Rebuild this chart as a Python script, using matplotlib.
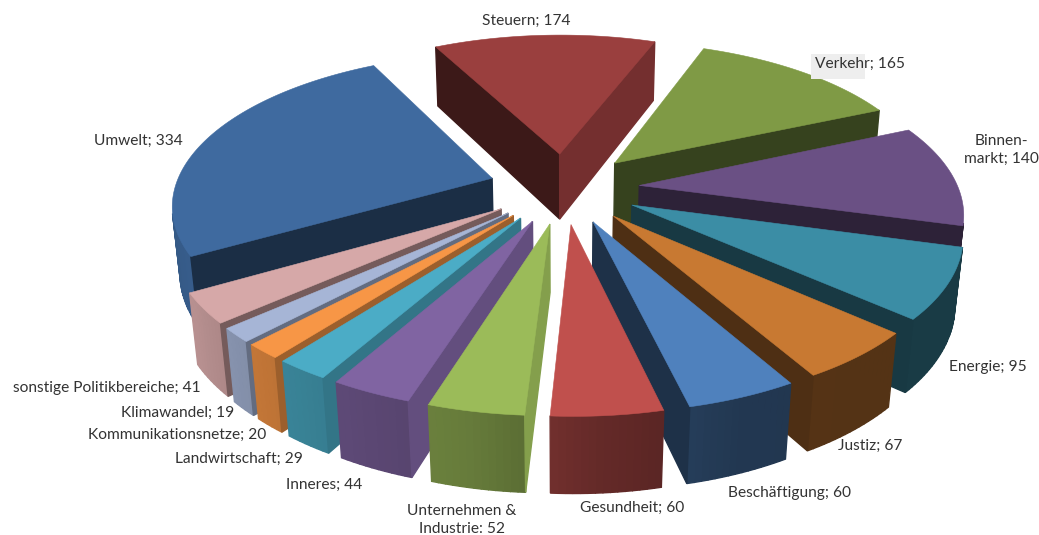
import numpy as np
import matplotlib
matplotlib.use("Agg")
import matplotlib.pyplot as plt

names = ["Steuern", "Verkehr", "Binnen-\nmarkt", "Energie", "Justiz", "Beschäftigung", "Gesundheit",
         "Unternehmen &\nIndustrie", "Inneres", "Landwirtschaft", "Kommunikationsnetze", "Klimawandel",
         "sonstige Politikbereiche", "Umwelt"]
values = [174, 165, 140, 95, 67, 60, 60, 52, 44, 29, 20, 19, 41, 334]
top_colors = ["#9A3F3E", "#7F9A45", "#6A5084", "#3B8DA5", "#C87932", "#4F81BD", "#C0504D",
              "#9BBB59", "#8064A2", "#4BACC6", "#F79646", "#A6B5D6", "#D6A8A8", "#3F6A9F"]

# Beschriftungen: x, y (Pixel), Ausrichtung
label_pos = [(526, 21), (860, 64), (1001, 150), (988, 367), (870, 446), (789, 493), (632, 508),
             (462, 520), (324, 485), (239, 459), (177, 435), (178, 413), (107, 388), (138, 141)]

# Geometrie der Projektion
start_angle = -28.6
explode = 0.238
cx, cy = 564, 188
A, B, C, D, E = 318, 148, 68, 6, -3
k, m, n = 0.16, -0.005, 0.02

# Helligkeit der Seitenwände je nach Richtung
wall_dir = [92, 106, 119, 132, 149, 200, 255]
wall_fac = [0.85, 0.78, 0.68, 0.60, 0.43, 0.42, 0.38]
outer_dir = [100, 140, 157, 174, 190, 205, 225, 240, 280, 330]
outer_fac = [0.42, 0.42, 0.43, 0.52, 0.66, 0.72, 0.80, 0.87, 0.80, 0.80]


def project(x, y, z):
    w = 1 + k * y + m * x - n * z
    return cx + (A * x + D * y) / w, cy - (B * y + E * x + C * z) / w


def shade(col, f):
    rgb = np.array(matplotlib.colors.to_rgb(col))
    return tuple(rgb * f)


def draw_wall(ax, p, q, col):
    px = [project(p[0], p[1], 0), project(q[0], q[1], 0), project(q[0], q[1], -1), project(p[0], p[1], -1)]
    xs = np.array([a[0] for a in px])
    ys = np.array([a[1] for a in px])
    area = np.sum(xs * np.roll(ys, -1) - np.roll(xs, -1) * ys)
    if area < 0:
        ax.fill(xs, ys, color=col, lw=1.0)


fig = plt.figure(figsize=(10.39, 5.35), dpi=100)
ax = fig.add_axes([0, 0, 1, 1])
ax.set_xlim(0, 1039)
ax.set_ylim(535, 0)
ax.axis("off")

angles = np.concatenate([[0], np.cumsum(values)]) / np.sum(values) * 360 + start_angle
mids = (angles[:-1] + angles[1:]) / 2
order = np.argsort(-np.cos(np.radians(mids)))

for i in order:
    a1, a2 = angles[i], angles[i + 1]
    mid = np.radians(mids[i])
    tip = (explode * np.sin(mid), explode * np.cos(mid))
    th = np.radians(np.linspace(a1, a2, max(int(a2 - a1), 6)))
    arc_x = tip[0] + np.sin(th)
    arc_y = tip[1] + np.cos(th)
    col = top_colors[i]

    # Wände
    for j in range(len(th) - 1):
        f = np.interp(np.degrees(th[j]) % 360, outer_dir, outer_fac)
        draw_wall(ax, (arc_x[j], arc_y[j]), (arc_x[j + 1], arc_y[j + 1]), shade(col, f))
    f1 = np.interp((a1 - 90) % 360, wall_dir, wall_fac)
    f2 = np.interp((a2 + 90) % 360, wall_dir, wall_fac)
    draw_wall(ax, tip, (arc_x[0], arc_y[0]), shade(col, f1))
    draw_wall(ax, (arc_x[-1], arc_y[-1]), tip, shade(col, f2))

    # Deckfläche
    sx, sy = project(np.r_[tip[0], arc_x], np.r_[tip[1], arc_y], 0)
    ax.fill(sx, sy, color=col, lw=0.4)

# grauer Kasten hinter "Verkehr"
ax.fill([811, 865, 865, 811], [54, 54, 79, 79], color="#EEEEEE", lw=0, zorder=5)

for name, val, pos in zip(names, values, label_pos):
    sep = ": " if name.startswith("Unternehmen") else "; "
    ax.text(pos[0], pos[1], f"{name}{sep}{val}", ha="center", va="center", fontsize=11.2,
            family="Lato", color="#333333", linespacing=1.4, zorder=6)

fig.savefig("out.png", dpi=100)
